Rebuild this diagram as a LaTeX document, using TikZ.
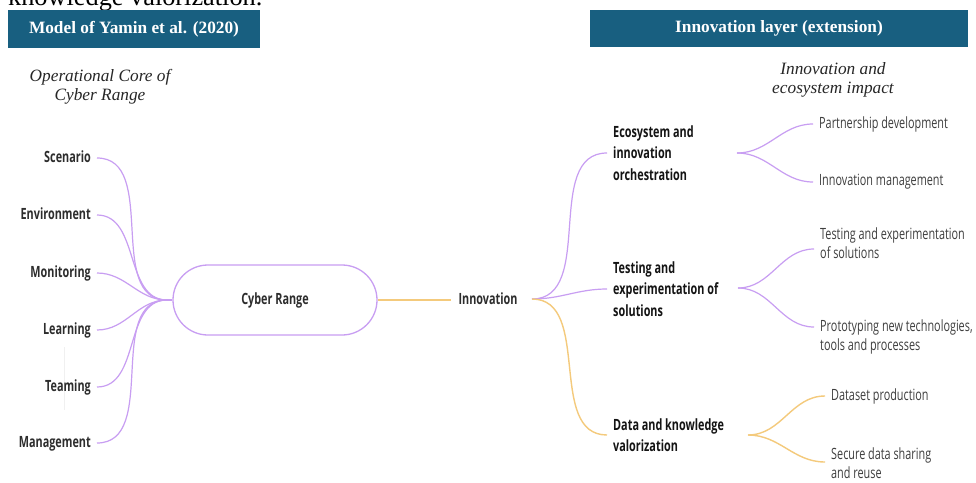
\documentclass[tikz,border=0pt]{standalone}
\usepackage{fontspec}
\setmainfont{Liberation Serif}
\newfontfamily\mapfont[FakeStretch=0.7]{Open Sans}
\definecolor{headblue}{RGB}{24,95,128}
\definecolor{violetline}{RGB}{200,158,242}
\definecolor{amberline}{RGB}{244,202,124}
\definecolor{labelgray}{RGB}{45,45,45}
\definecolor{leafgray}{RGB}{62,62,62}
\begin{document}
\begin{tikzpicture}[x=1pt,y=-1pt,
  banner/.style={fill=headblue,text=white,inner sep=0pt,
    font=\bfseries\fontsize{17.3}{20}\selectfont},
  caption/.style={align=center,inner sep=0pt,text=black!85,
    font=\itshape\fontsize{17.3}{19.5}\selectfont},
  aspect/.style={anchor=east,inner xsep=6pt,inner ysep=0pt,text=labelgray,
    text height=11pt,text depth=3pt,
    font=\mapfont\bfseries\fontsize{15.5}{18}\selectfont},
  branch/.style={anchor=west,align=left,inner xsep=6pt,inner ysep=0pt,
    text=black!92,font=\mapfont\bfseries\fontsize{15.5}{21.5}\selectfont},
  leaf/.style={anchor=west,align=left,inner xsep=6pt,inner ysep=0pt,
    text=leafgray,font=\mapfont\fontsize{15.5}{19.5}\selectfont},
  vlink/.style={draw=violetline,line width=1.2pt},
  alink/.style={draw=amberline,line width=1.4pt},
]
\useasboundingbox (0,0) rectangle (976,482);
\clip (0,0) rectangle (976,482);
\fill[white] (0,0) rectangle (976,482);

% running text of the page above the figure
\node[anchor=base west,inner sep=0pt,font=\fontsize{26.3}{30}\selectfont]
  (spill) at (8,5) {knowledge valorization.};

% headers
\node[banner,minimum width=252pt,minimum height=38pt] (hdrL) at (134,29)
  {Model of Yamin et al. (2020)};
\node[banner,minimum width=378pt,minimum height=37pt] (hdrR) at (779,28.5)
  {Innovation layer (extension)};
\node[caption] (capL) at (100,87) {Operational Core of\\Cyber Range};
\node[caption] (capR) at (833,80) {Innovation and\\ecosystem impact};

% faint rule beside Teaming
\draw[black!6,line width=0.8pt] (64,347) -- (64,410);

% central node
\node[draw=violetline,line width=1.3pt,rounded corners=35pt,
  minimum width=204pt,minimum height=70pt,inner sep=0pt,text=labelgray,
  font=\mapfont\bfseries\fontsize{15.5}{18}\selectfont] (cr) at (275,300) {Cyber Range};
\coordinate (hubL) at (167,300);

% operational aspects
\node[aspect] (scen) at (97,158) {Scenario};
\node[aspect] (env)  at (97,215) {Environment};
\node[aspect] (mon)  at (97,273) {Monitoring};
\node[aspect] (lea)  at (97,330) {Learning};
\node[aspect] (team) at (97,387) {Teaming};
\node[aspect] (mgmt) at (97,443) {Management};

\foreach \n in {scen,env,mon,lea,team,mgmt}
  \draw[vlink] (\n.east) to[out=0,in=180] (hubL);
\draw[vlink] (hubL) -- (cr.west);

% innovation layer
\node[inner xsep=7pt,inner ysep=0pt,text=labelgray,text height=11pt,text depth=3pt,
  font=\mapfont\bfseries\fontsize{15.5}{18}\selectfont] (innov) at (488,300) {Innovation};
\draw[alink] (cr.east) -- (cr.east -| innov.west);
\coordinate (hubR) at (532,299);

\node[branch] (eco)  at (607,153) {Ecosystem and\\innovation\\orchestration};
\node[branch] (test) at (607,289) {Testing and\\experimentation of\\solutions};
\node[branch] (data) at (607,435) {Data and knowledge\\valorization};

\draw[vlink] (hubR) to[out=0,in=180] (eco.west);
\draw[vlink] (hubR) to[out=0,in=180] (test.west);
\draw[alink] (hubR) to[out=0,in=180] (data.west);

% second-level items
\coordinate (fkE) at (737,153);
\coordinate (fkT) at (738,288);
\coordinate (fkD) at (748,435);

\node[leaf] (part)   at (813,124) {Partnership development};
\node[leaf] (imgmt)  at (813,182) {Innovation management};
\node[leaf] (tsol)   at (814,243) {Testing and experimentation\\of solutions};
\node[leaf] (proto)  at (814,337) {Prototyping new technologies,\\tools and processes};
\node[leaf] (dset)   at (825,396) {Dataset production};
\node[leaf] (secure) at (825,463) {Secure data sharing\\and reuse};

\draw[vlink] (fkE) to[out=0,in=180] (part.west);
\draw[vlink] (fkE) to[out=0,in=180] (imgmt.west);
\draw[vlink] (fkT) to[out=0,in=180] ([yshift=-6pt]tsol.west);
\draw[vlink] (fkT) to[out=0,in=180] ([yshift=10pt]proto.west);
\draw[alink] (fkD) to[out=0,in=180] (dset.west);
\draw[alink] (fkD) to[out=0,in=180] ([yshift=1pt]secure.west);
\end{tikzpicture}
\end{document}
